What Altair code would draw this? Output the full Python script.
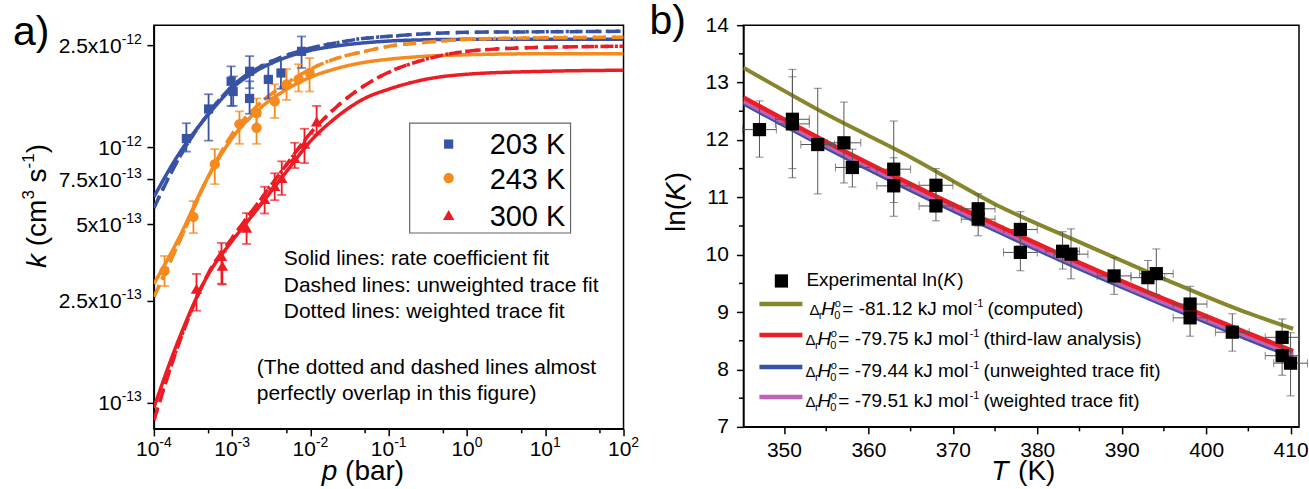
import math
import json
import altair as alt
import pandas as pd

FONT = "Liberation Sans"

# ======================= Panel a) data =======================
temps = ["203 K", "243 K", "300 K"]
temp_colors = ["#3953A4", "#F58A1F", "#ED1C24"]
temp_shapes = ["square", "circle", "triangle-up"]
temp_sizes = [85, 130, 140]

p_203 = [2.6e-4, 5.0e-4, 9.7e-4, 1.03e-3, 1.67e-3, 1.67e-3, 2.9e-3, 4.2e-3, 7.7e-3]
k_203 = [1.08e-12, 1.41e-12, 1.81e-12, 1.65e-12, 1.98e-12, 1.55e-12, 1.84e-12, 1.95e-12, 2.37e-12]
klo_203 = [9.6e-13, 1.06e-12, 1.45e-12, 1.45e-12, 1.70e-12, 1.35e-12, 1.55e-12, 1.69e-12, 2.04e-12]
khi_203 = [1.24e-12, 1.61e-12, 2.07e-12, 1.89e-12, 2.27e-12, 1.81e-12, 2.11e-12, 2.23e-12, 2.71e-12]

p_243 = [1.37e-4, 3.2e-4, 6.0e-4, 1.24e-3, 2.05e-3, 2.05e-3, 3.5e-3, 4.95e-3, 7.05e-3, 9.75e-3]
k_243 = [3.28e-13, 5.33e-13, 8.58e-13, 1.23e-12, 1.19e-12, 1.36e-12, 1.51e-12, 1.76e-12, 1.84e-12, 1.95e-12]
klo_243 = [2.86e-13, 4.61e-13, 7.17e-13, 1.03e-12, 1.03e-12, 1.19e-12, 1.30e-12, 1.53e-12, 1.65e-12, 1.65e-12]
khi_243 = [3.75e-13, 6.15e-13, 9.82e-13, 1.38e-12, 1.32e-12, 1.55e-12, 1.76e-12, 2.02e-12, 2.11e-12, 2.23e-12]

p_300 = [3.5e-4, 7.3e-4, 7.5e-4, 1.53e-3, 2.6e-3, 3.5e-3, 4.3e-3, 6.3e-3, 8.4e-3, 1.2e-2]
k_300 = [2.79e-13, 3.75e-13, 3.43e-13, 4.83e-13, 6.26e-13, 7.04e-13, 7.57e-13, 9.06e-13, 1.03e-12, 1.26e-12]
klo_300 = [2.29e-13, 2.92e-13, 2.90e-13, 4.18e-13, 5.50e-13, 6.20e-13, 6.50e-13, 8.28e-13, 8.66e-13, 1.12e-12]
khi_300 = [3.19e-13, 4.22e-13, 3.90e-13, 5.52e-13, 7.00e-13, 7.90e-13, 8.80e-13, 1.04e-12, 1.18e-12, 1.45e-12]

fit_types = ["rate coefficient fit", "unweighted trace fit", "weighted trace fit"]
p_fit = [1e-4, 2e-4, 5e-4, 1e-3, 2e-3, 5e-3, 1e-2, 2e-2, 5e-2, 0.1, 0.3, 1, 10, 100]
kfit_rate_203 = [6.38e-13, 9.22e-13, 1.345e-12, 1.70e-12, 1.98e-12, 2.25e-12, 2.39e-12, 2.48e-12, 2.56e-12, 2.60e-12, 2.63e-12, 2.64e-12, 2.64e-12, 2.64e-12]
kfit_unw_203 = [5.78e-13, 8.82e-13, 1.358e-12, 1.731e-12, 2.017e-12, 2.288e-12, 2.436e-12, 2.548e-12, 2.666e-12, 2.714e-12, 2.776e-12, 2.813e-12, 2.826e-12, 2.839e-12]
kfit_wtd_203 = [5.80e-13, 8.85e-13, 1.36e-12, 1.73e-12, 2.02e-12, 2.29e-12, 2.44e-12, 2.55e-12, 2.67e-12, 2.71e-12, 2.78e-12, 2.81e-12, 2.83e-12, 2.84e-12]
kfit_rate_243 = [2.916e-13, 4.295e-13, 7.70e-13, 1.084e-12, 1.370e-12, 1.685e-12, 1.877e-12, 2.017e-12, 2.148e-12, 2.207e-12, 2.268e-12, 2.298e-12, 2.319e-12, 2.319e-12]
kfit_unw_243 = [2.595e-13, 4.106e-13, 7.70e-13, 1.124e-12, 1.433e-12, 1.778e-12, 2.017e-12, 2.207e-12, 2.371e-12, 2.48e-12, 2.571e-12, 2.64e-12, 2.678e-12, 2.690e-12]
kfit_wtd_243 = [2.60e-13, 4.11e-13, 7.70e-13, 1.12e-12, 1.43e-12, 1.78e-12, 2.02e-12, 2.21e-12, 2.37e-12, 2.48e-12, 2.57e-12, 2.64e-12, 2.68e-12, 2.69e-12]
kfit_rate_300 = [9.56e-14, 1.716e-13, 3.19e-13, 4.295e-13, 5.62e-13, 8.06e-13, 1.055e-12, 1.286e-12, 1.554e-12, 1.685e-12, 1.843e-12, 1.928e-12, 1.98e-12, 1.999e-12]
kfit_unw_300 = [8.51e-14, 1.64e-13, 3.22e-13, 4.41e-13, 5.88e-13, 8.58e-13, 1.134e-12, 1.407e-12, 1.747e-12, 1.963e-12, 2.207e-12, 2.371e-12, 2.458e-12, 2.48e-12]
kfit_wtd_300 = [8.55e-14, 1.65e-13, 3.22e-13, 4.41e-13, 5.88e-13, 8.58e-13, 1.13e-12, 1.41e-12, 1.75e-12, 1.96e-12, 2.21e-12, 2.37e-12, 2.46e-12, 2.48e-12]

xa_tick_values = [1e-4, 1e-3, 1e-2, 1e-1, 1e0, 1e1, 1e2]
xa_tick_base = ["10"] * 7
xa_tick_exp = ["-4", "-3", "-2", "-1", "0", "1", "2"]
xa_minor_values = [5e-4, 5e-3, 5e-2, 5e-1, 5e0, 5e1]
ya_tick_values = [1e-13, 2.5e-13, 5e-13, 7.5e-13, 1e-12, 2.5e-12]
ya_tick_base = ["10", "2.5x10", "5x10", "7.5x10", "10", "2.5x10"]
ya_tick_exp = ["-13", "-13", "-13", "-13", "-12", "-12"]

annotation_lines = ["Solid lines: rate coefficient fit",
                    "Dashed lines: unweighted trace fit",
                    "Dotted lines: weighted trace fit",
                    "(The dotted and dashed lines almost",
                    "perfectly overlap in this figure)"]

# ======================= Panel b) data =======================
T_exp = [347.1, 351.0, 351.0, 354.0, 357.1, 358.1, 363.0, 363.0, 368.0, 368.0, 373.0, 373.0,
         378.0, 378.0, 383.0, 384.0, 389.1, 393.1, 394.1, 398.1, 398.1, 403.1, 409.0, 409.0, 410.0]
lnK_exp = [12.18, 12.36, 12.28, 11.92, 11.95, 11.52, 11.49, 11.20, 11.21, 10.85, 10.80, 10.62,
           10.44, 10.04, 10.06, 10.01, 9.63, 9.60, 9.67, 9.14, 8.90, 8.65, 8.56, 8.24, 8.11]
lnK_lo = [11.70, 11.34, 11.50, 11.06, 11.25, 11.18, 10.67, 10.91, 10.90, 10.59, 10.50, 10.33,
          10.15, 9.72, 9.75, 9.58, 9.31, 9.35, 9.31, 8.80, 8.58, 8.32, 8.20, 7.90, 7.54]
lnK_hi = [12.68, 13.23, 13.10, 12.90, 12.66, 11.84, 12.33, 11.69, 11.50, 11.11, 11.06, 10.90,
          10.75, 10.33, 10.40, 10.45, 9.95, 9.90, 10.10, 9.45, 9.20, 8.97, 8.88, 8.60, 8.64]
T_err = [2.0] * 25

fit_names = ["computed", "third-law analysis", "unweighted trace fit", "weighted trace fit"]
fit_colors = ["#86862C", "#EE1D24", "#3953A4", "#C060B6"]
dH_values = ["-81.12", "-79.75", "-79.44", "-79.51"]
T_fit = [345.2, 355, 365, 375, 385, 395, 405, 410.3]
lnK_computed = [13.26, 12.45, 11.70, 10.88, 10.22, 9.58, 8.98, 8.71]
lnK_thirdlaw = [12.74, 11.97, 11.23, 10.53, 9.86, 9.23, 8.63, 8.32]
lnK_unweighted = [12.64, 11.87, 11.13, 10.43, 9.76, 9.13, 8.53, 8.22]
lnK_weighted = [12.68, 11.91, 11.17, 10.47, 9.80, 9.17, 8.57, 8.26]

xb_tick_values = [350, 360, 370, 380, 390, 400, 410]
xb_minor_values = [355, 365, 375, 385, 395, 405]
yb_tick_values = [7, 8, 9, 10, 11, 12, 13, 14]
yb_minor_values = [7.5, 8.5, 9.5, 10.5, 11.5, 12.5, 13.5]

# ======================= helpers =======================
AW = {' ': 278, '(': 333, ')': 333, '-': 333, '.': 278, '=': 584, ':': 278,
      'E': 667, 'H': 722, 'K': 667, 'T': 611, 'J': 500, 'Δ': 668,
      'a': 556, 'b': 556, 'c': 500, 'd': 556, 'e': 556, 'f': 278, 'g': 556, 'h': 556,
      'i': 222, 'k': 500, 'l': 222, 'm': 833, 'n': 556, 'o': 556, 'p': 556, 'r': 333,
      's': 500, 't': 278, 'u': 556, 'w': 722, 'x': 500, 'y': 500}


def tw(s, size):
    return sum(AW.get(c, 556) for c in s) * size / 1000.0


def make_axis(values, pad=4, size=21, labels=True):
    kw = dict(values=values, title=None, grid=False, tickSize=7, tickWidth=1.5, tickColor="black",
              domainColor="black", domainWidth=1.5, labelFont=FONT, labelFontSize=size,
              labelColor="black", labelPadding=pad, labelFlush=False, labelOverlap=False, labels=labels)
    return alt.Axis(**kw)


def text_layer(rows, X, Y, size, italic=False, angle=0, align="left", baseline="alphabetic"):
    df = pd.DataFrame(rows, columns=["x", "y", "t"])
    return alt.Chart(df).mark_text(font=FONT, fontSize=size, fontStyle="italic" if italic else "normal",
                                   angle=angle, align=align, baseline=baseline, color="black").encode(
        x=X("x"), y=Y("y"), text="t:N")


TS = 28   # axis title size
SS = 17   # superscript size in titles
PS = 41   # panel letter size
ML = 21   # tick label main size
SL = 14   # tick label superscript size

# ======================= Panel a) =======================
WA, HA = 470, 404
XA_DOM = [1e-4, 1e2]
YA_DOM = [7.9e-14, 3.0e-12]
xa_scale = alt.Scale(type="log", domain=XA_DOM, nice=False)
ya_scale = alt.Scale(type="log", domain=YA_DOM, nice=False)
xa_axis = make_axis(xa_tick_values, labels=False)
ya_axis = make_axis(ya_tick_values, labels=False)


def XA(f):
    return alt.X(f, type="quantitative", scale=xa_scale, axis=xa_axis)


def YA(f):
    return alt.Y(f, type="quantitative", scale=ya_scale, axis=ya_axis)


def xa_px(X):
    l0, l1 = math.log10(XA_DOM[0]), math.log10(XA_DOM[1])
    return 10 ** (l0 + X / WA * (l1 - l0))


def ya_px(Y):
    l0, l1 = math.log10(YA_DOM[0]), math.log10(YA_DOM[1])
    return 10 ** (l1 - Y / HA * (l1 - l0))


def xa_pos(v):
    l0, l1 = math.log10(XA_DOM[0]), math.log10(XA_DOM[1])
    return (math.log10(v) - l0) / (l1 - l0) * WA


def ya_pos(v):
    l0, l1 = math.log10(YA_DOM[0]), math.log10(YA_DOM[1])
    return (l1 - math.log10(v)) / (l1 - l0) * HA


color_a = alt.Color("temp:N", scale=alt.Scale(domain=temps, range=temp_colors), legend=None)
shape_a = alt.Shape("temp:N", scale=alt.Scale(domain=temps, range=temp_shapes), legend=None)
size_a = alt.Size("temp:N", scale=alt.Scale(domain=temps, range=temp_sizes), legend=None)

pts = []
for t, P, K, LO, HI in [(temps[0], p_203, k_203, klo_203, khi_203),
                        (temps[1], p_243, k_243, klo_243, khi_243),
                        (temps[2], p_300, k_300, klo_300, khi_300)]:
    for a, b, c, d in zip(P, K, LO, HI):
        pts.append({"temp": t, "p": a, "k": b, "klo": c, "khi": d})
pts_df = pd.DataFrame(pts)
caps_df = pd.concat([pts_df.assign(kc=pts_df["klo"]), pts_df.assign(kc=pts_df["khi"])])

curves = []
fits = {temps[0]: [kfit_rate_203, kfit_unw_203, kfit_wtd_203],
        temps[1]: [kfit_rate_243, kfit_unw_243, kfit_wtd_243],
        temps[2]: [kfit_rate_300, kfit_unw_300, kfit_wtd_300]}
for t in temps:
    for ft, ks in zip(fit_types, fits[t]):
        for a, b in zip(p_fit, ks):
            curves.append({"temp": t, "fit": ft, "series": t + ft, "p": a, "k": b})
curves_df = pd.DataFrame(curves)

lines_a = alt.Chart(curves_df).mark_line(strokeWidth=3.5, interpolate="monotone", clip=True).encode(
    x=XA("p"), y=YA("k"), color=color_a, detail="series:N",
    strokeDash=alt.StrokeDash("fit:N", scale=alt.Scale(domain=fit_types, range=[[1, 0], [13, 6], [3, 7]]),
                              legend=None))
err_a = alt.Chart(pts_df).mark_rule(strokeWidth=1.8).encode(x=XA("p"), y=YA("klo"), y2="khi", color=color_a)
caps_a = alt.Chart(caps_df).mark_tick(orient="horizontal", size=9, thickness=1.8).encode(
    x=XA("p"), y=YA("kc"), color=color_a)
points_a = alt.Chart(pts_df).mark_point(filled=True, opacity=1).encode(
    x=XA("p"), y=YA("k"), color=color_a, shape=shape_a, size=size_a)
minor_a = alt.Chart(pd.DataFrame({"v": xa_minor_values})).mark_rule(color="black", strokeWidth=1.5).encode(
    x=XA("v"), y=alt.value(HA), y2=alt.value(HA + 4.5))

# tick labels with real superscripts
xl_main, xl_sup = [], []
for v, b, e in zip(xa_tick_values, xa_tick_base, xa_tick_exp):
    w = tw(b, ML) + tw(e, SL)
    x0 = xa_pos(v) - w / 2
    xl_main.append((xa_px(x0), ya_px(HA + 27), b))
    xl_sup.append((xa_px(x0 + tw(b, ML)), ya_px(HA + 18), e))
yl_main, yl_sup = [], []
for v, b, e in zip(ya_tick_values, ya_tick_base, ya_tick_exp):
    yy = ya_pos(v)
    xr = -12
    yl_sup.append((xa_px(xr), ya_px(yy - 1.5), e))
    yl_main.append((xa_px(xr - tw(e, SL)), ya_px(yy + 7.5), b))
tl_a = [text_layer(xl_main, XA, YA, ML), text_layer(xl_sup, XA, YA, SL),
        text_layer(yl_main, XA, YA, ML, align="right"), text_layer(yl_sup, XA, YA, SL, align="right")]

# legend box
box_df = pd.DataFrame([{"x1": xa_px(256), "x2": xa_px(417), "y1": ya_px(98), "y2": ya_px(208)}])
box_a = alt.Chart(box_df).mark_rect(fill="white", stroke="#666666", strokeWidth=1.2).encode(
    x=XA("x1"), x2="x2", y=YA("y1"), y2="y2")
leg_sym_df = pd.DataFrame({"temp": temps, "p": [xa_px(295)] * 3, "k": [ya_px(119), ya_px(153), ya_px(190)]})
leg_sym_a = alt.Chart(leg_sym_df).mark_point(filled=True, opacity=1).encode(
    x=XA("p"), y=YA("k"), color=color_a, shape=shape_a, size=size_a)

leg_txt_a = text_layer([(xa_px(336), ya_px(y), t) for y, t in zip([129, 164, 201], temps)], XA, YA, 29)
ann_pos = [(130, 240), (130, 267), (130, 293), (103, 349), (103, 375)]
ann_a = text_layer([(xa_px(x), ya_px(y), t) for (x, y), t in zip(ann_pos, annotation_lines)], XA, YA, 21)
panel_a_lbl = text_layer([(xa_px(-141), ya_px(20), "a)")], XA, YA, PS)
# axis titles
XT_Y = 455
xt_a_it = text_layer([(xa_px(168), ya_px(XT_Y), "p")], XA, YA, TS, italic=True)
xt_a_rm = text_layer([(xa_px(168 + tw("p ", TS)), ya_px(XT_Y), "(bar)")], XA, YA, TS)
yx = -108
y_k = 243
y_cm = y_k - tw("k ", TS)
y_3 = y_cm - tw("(cm", TS)
y_s = y_3 - tw("3", SS) - tw(" ", TS)
y_m1 = y_s - tw("s", TS)
y_par = y_m1 - tw("-1", SS)
yt_a_it = text_layer([(xa_px(yx), ya_px(y_k), "k")], XA, YA, TS, italic=True, angle=270)
yt_a_rm = text_layer([(xa_px(yx), ya_px(y_cm), "(cm"), (xa_px(yx), ya_px(y_s), "s"),
                      (xa_px(yx), ya_px(y_par), ")")], XA, YA, TS, angle=270)
yt_a_sup = text_layer([(xa_px(yx - 12), ya_px(y_3), "3"), (xa_px(yx - 12), ya_px(y_m1), "-1")],
                      XA, YA, SS, angle=270)

panel_a = alt.layer(lines_a, err_a, caps_a, points_a, minor_a, *tl_a, box_a, leg_sym_a, leg_txt_a, ann_a,
                    panel_a_lbl, xt_a_it, xt_a_rm, yt_a_it, yt_a_rm, yt_a_sup).properties(width=WA, height=HA)

# ======================= Panel b) =======================
WB, HB = 556, 402
XB_DOM = [345.2, 411.0]
YB_DOM = [7, 14]
xb_scale = alt.Scale(domain=XB_DOM, nice=False, zero=False)
yb_scale = alt.Scale(domain=YB_DOM, nice=False, zero=False)
xb_axis = make_axis(xb_tick_values, pad=6)
yb_axis = make_axis(yb_tick_values, pad=8)


def XB(f):
    return alt.X(f, type="quantitative", scale=xb_scale, axis=xb_axis)


def YB(f):
    return alt.Y(f, type="quantitative", scale=yb_scale, axis=yb_axis)


def xb_px(X):
    return XB_DOM[0] + X / WB * (XB_DOM[1] - XB_DOM[0])


def yb_px(Y):
    return YB_DOM[1] - Y / HB * (YB_DOM[1] - YB_DOM[0])


exp_df = pd.DataFrame({"T": T_exp, "lnK": lnK_exp, "lo": lnK_lo, "hi": lnK_hi,
                       "Tlo": [a - e for a, e in zip(T_exp, T_err)], "Thi": [a + e for a, e in zip(T_exp, T_err)]})
ycaps_df = pd.concat([exp_df.assign(c=exp_df["lo"]), exp_df.assign(c=exp_df["hi"])])
xcaps_df = pd.concat([exp_df.assign(c=exp_df["Tlo"]), exp_df.assign(c=exp_df["Thi"])])

fit_rows = []
for name, vals in zip(fit_names, [lnK_computed, lnK_thirdlaw, lnK_unweighted, lnK_weighted]):
    for a, b in zip(T_fit, vals):
        fit_rows.append({"fit": name, "T": a, "lnK": b})
fit_df = pd.DataFrame(fit_rows)
color_b = alt.Color("fit:N", scale=alt.Scale(domain=fit_names, range=fit_colors), legend=None)
draw_order = ["computed", "unweighted trace fit", "weighted trace fit", "third-law analysis"]
fit_layers = [alt.Chart(fit_df[fit_df["fit"] == n]).mark_line(
    strokeWidth=4.5 if n != "computed" else 4, interpolate="monotone", clip=True).encode(
    x=XB("T"), y=YB("lnK"), color=color_b) for n in draw_order]

ERRC = "#555555"
yerr_b = alt.Chart(exp_df).mark_rule(strokeWidth=1, color=ERRC).encode(x=XB("T"), y=YB("lo"), y2="hi")
xerr_b = alt.Chart(exp_df).mark_rule(strokeWidth=1, color=ERRC).encode(x=XB("Tlo"), x2="Thi", y=YB("lnK"))
ycap_b = alt.Chart(ycaps_df).mark_tick(orient="horizontal", size=8, thickness=1, color=ERRC).encode(
    x=XB("T"), y=YB("c"))
xcap_b = alt.Chart(xcaps_df).mark_tick(orient="vertical", size=8, thickness=1, color=ERRC).encode(
    x=XB("c"), y=YB("lnK"))
pts_b = alt.Chart(exp_df).mark_point(shape="square", filled=True, opacity=1, size=175, color="black").encode(
    x=XB("T"), y=YB("lnK"))
minor_bx = alt.Chart(pd.DataFrame({"v": xb_minor_values})).mark_rule(color="black", strokeWidth=1.5).encode(
    x=XB("v"), y=alt.value(HB), y2=alt.value(HB + 4.5))
minor_by = alt.Chart(pd.DataFrame({"v": yb_minor_values})).mark_rule(color="black", strokeWidth=1.5).encode(
    y=YB("v"), x=alt.value(0), x2=alt.value(-4.5))

# legend
row_line_y = [279, 310, 342, 372]
row_start = [66, 62, 62, 62]
leg_line_df = pd.DataFrame({"fit": fit_names, "x1": [xb_px(16)] * 4, "x2": [xb_px(59)] * 4,
                            "y": [yb_px(v) for v in row_line_y]})
leg_lines_b = alt.Chart(leg_line_df).mark_rule(strokeWidth=4.5).encode(
    x=XB("x1"), x2="x2", y=YB("y"), color=color_b)
leg_sq_b = alt.Chart(pd.DataFrame({"T": [xb_px(38)], "lnK": [yb_px(256)]})).mark_point(
    shape="square", filled=True, opacity=1, size=175, color="black").encode(x=XB("T"), y=YB("lnK"))
LS = 19
e_x = 63
e_y = 261
rows_norm, rows_it, rows_small, rows_delta = [], [], [], []
rows_norm.append((xb_px(e_x), yb_px(e_y), "Experimental ln("))
k_x = e_x + tw("Experimental ln(", LS)
rows_it.append((xb_px(k_x), yb_px(e_y), "K"))
rows_norm.append((xb_px(k_x + tw("K", LS) + 1), yb_px(e_y), ")"))
for i in range(4):
    bx = row_start[i]
    by = row_line_y[i] + (11 if i == 0 else 10)
    rows_delta.append((xb_px(bx), yb_px(by), "Δ"))
    rows_small.append((xb_px(bx + 9.5), yb_px(by + 4), "r"))
    rows_it.append((xb_px(bx + 12), yb_px(by), "H"))
    rows_small.append((xb_px(bx + 25), yb_px(by + 4), "0"))
    rows_small.append((xb_px(bx + 25.5), yb_px(by - 8), "o"))
    main = f"= {dH_values[i]} kJ mol"
    rows_norm.append((xb_px(bx + 33), yb_px(by), main))
    sx = bx + 33 + tw(main, LS) + 1
    rows_small.append((xb_px(sx), yb_px(by - 8), "-1"))
    rows_norm.append((xb_px(sx + tw("-1", 11) + 4), yb_px(by), f"({fit_names[i]})"))
leg_norm_b = text_layer(rows_norm, XB, YB, LS)
leg_it_b = text_layer(rows_it, XB, YB, LS, italic=True)
leg_small_b = text_layer(rows_small, XB, YB, 11)
leg_delta_b = text_layer(rows_delta, XB, YB, 15)

panel_b_lbl = text_layer([(xb_px(-94), yb_px(9), "b)")], XB, YB, PS)
xt_b_it = text_layer([(xb_px(248), yb_px(XT_Y), "T")], XB, YB, TS, italic=True)
xt_b_rm = text_layer([(xb_px(248 + tw("T ", TS) + 2), yb_px(XT_Y), "(K)")], XB, YB, TS)
lx = -58
l0 = 207
yt_b_rm = text_layer([(xb_px(lx), yb_px(l0), "ln("),
                      (xb_px(lx), yb_px(l0 - tw("ln(", TS) - tw("K", TS) - 1), ")")], XB, YB, TS, angle=270)
yt_b_it = text_layer([(xb_px(lx), yb_px(l0 - tw("ln(", TS)), "K")], XB, YB, TS, italic=True, angle=270)

panel_b = alt.layer(*fit_layers, yerr_b, xerr_b, ycap_b, xcap_b, pts_b, minor_bx, minor_by,
                    leg_lines_b, leg_sq_b, leg_norm_b, leg_it_b, leg_small_b, leg_delta_b,
                    panel_b_lbl, xt_b_it, xt_b_rm, yt_b_rm, yt_b_it).properties(width=WB, height=HB)

chart = alt.hconcat(panel_a, panel_b, spacing=120, bounds="flush").resolve_scale(
    color="independent", shape="independent", size="independent", strokeDash="independent"
).properties(
    padding={"left": 12, "top": 0, "right": 0, "bottom": 0},
    background="white",
).configure_view(stroke="black", strokeWidth=1.5)

chart.save("out.html", embed_options={"renderer": "svg", "actions": False})
